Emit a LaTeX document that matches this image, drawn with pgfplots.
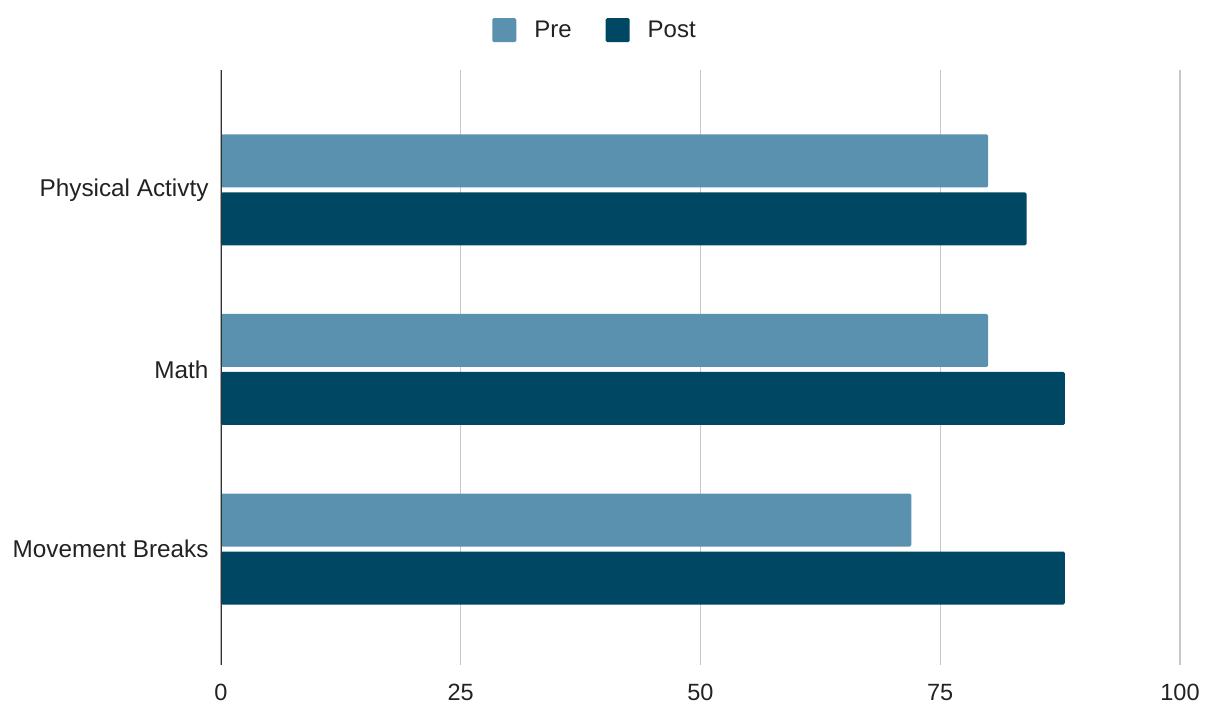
\documentclass[border=0pt]{standalone}
\usepackage{pgfplots}
\pgfplotsset{compat=1.18}
\usepackage{fontspec}
\setmainfont{Liberation Sans}
\definecolor{preC}{HTML}{5A91AF}
\definecolor{postC}{HTML}{004763}
\definecolor{txt}{HTML}{222222}
\begin{document}
\begin{tikzpicture}
\useasboundingbox (-221pt,-42pt) rectangle (987pt,665pt);
\begin{axis}[
  scale only axis,
  width=959pt, height=595pt,
  xbar, bar width=53pt,
  xmin=0, xmax=100,
  ymin=-0.646, ymax=2.668,
  xtick={0,25,50,75,100},
  ytick={0,1,2},
  yticklabels={Movement Breaks,Math,Physical Activty},
  /pgf/number format/assume math mode=true,
  xticklabel style={font=\fontsize{23.5}{27}\selectfont, text=txt, yshift=-16pt},
  yticklabel style={font=\fontsize{24.3}{28}\selectfont, text=txt, xshift=-9pt},
  major tick length=0pt,
  xmajorgrids, grid style={draw=black!22, line width=1.5pt},
  axis line style={draw=none},
  legend style={draw=none, at={(0.39,1.067)}, anchor=center, legend columns=2,
    /tikz/every even column/.append style={column sep=32pt},
    font=\fontsize{24}{28}\selectfont, text=txt},
  legend image code/.code={\fill[#1, rounded corners=1.5pt] (0pt,-12pt) rectangle (24pt,12pt); \path[draw=none, fill=none] (0pt,-12pt) rectangle (40pt,12pt);},
]
\addplot[fill=preC, draw=none, bar shift=29pt, rounded corners=1.5pt] coordinates {(72,0) (80,1) (80,2)};
\addplot[fill=postC, draw=none, bar shift=-29pt, rounded corners=1.5pt] coordinates {(88,0) (88,1) (84,2)};
\legend{Pre,Post}
\draw[black!80, line width=1.2pt] (rel axis cs:0,0) -- (rel axis cs:0,1);
\end{axis}
\end{tikzpicture}
\end{document}
